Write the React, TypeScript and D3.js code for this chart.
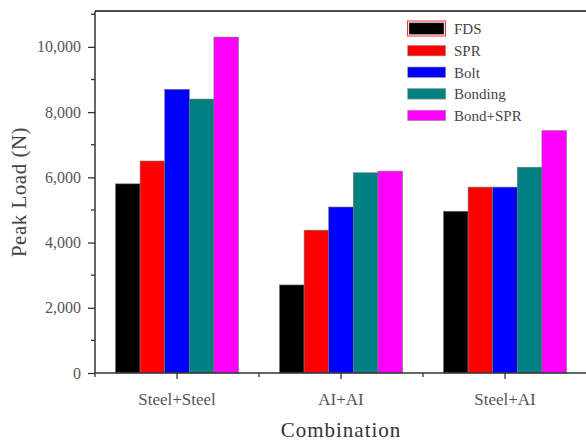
import * as d3 from "d3";
import { useEffect, useRef } from "react";

const categories = ["Steel+Steel", "AI+AI", "Steel+AI"];
const seriesNames = ["FDS", "SPR", "Bolt", "Bonding", "Bond+SPR"];
const seriesColors = ["#000000", "#ff0000", "#0000ff", "#008080", "#ff00ff"];
const fds = [5800, 2700, 4960];
const spr = [6500, 4380, 5700];
const bolt = [8700, 5090, 5700];
const bonding = [8400, 6140, 6310];
const bondSpr = [10300, 6190, 7430];
const majorTicks = [0, 2000, 4000, 6000, 8000, 10000];
const minorTicks = [1000, 3000, 5000, 7000, 9000, 11000];

const seriesValues = [fds, spr, bolt, bonding, bondSpr];

export default function App() {
  const width = 586;
  const height = 442;
  const marginLeft = 95;
  const marginTop = 11;
  const marginBottom = 69;
  const plotRight = 587;

  const xAxisRef = useRef<SVGGElement>(null);
  const yAxisRef = useRef<SVGGElement>(null);

  // group bands, bars take 75% of each band
  const x0 = d3.scaleBand(categories, [marginLeft, plotRight]).padding(0);
  const x1 = d3
    .scaleBand(seriesNames, [0, x0.bandwidth()])
    .paddingOuter(0.833)
    .paddingInner(0);
  const y = d3.scaleLinear([0, 11100], [height - marginBottom, marginTop]);

  const font = "'Liberation Serif', 'DejaVu Serif', serif";

  useEffect(() => {
    const ya = d3.select(yAxisRef.current);
    ya.selectAll("*").remove();
    ya.call(d3.axisLeft(y).tickValues(majorTicks).tickSize(7).tickSizeOuter(0).tickFormat(d3.format(",")))
      .call((g) => g.select(".domain").remove());
    ya.selectAll("text")
      .attr("x", -14)
      .attr("font-size", 16)
      .attr("font-family", font)
      .attr("fill", "#555");
    ya.selectAll("line").attr("stroke", "#333").attr("stroke-width", 1.3);
    ya.append("g")
      .selectAll("line")
      .data(minorTicks)
      .join("line")
      .attr("x1", -4)
      .attr("x2", 0)
      .attr("y1", (d) => y(d))
      .attr("y2", (d) => y(d))
      .attr("stroke", "#333")
      .attr("stroke-width", 1.3);

    const xa = d3.select(xAxisRef.current);
    xa.selectAll("*").remove();
    xa.call(d3.axisBottom(x0).tickSize(6).tickSizeOuter(0))
      .call((g) => g.select(".domain").remove());
    xa.selectAll("text")
      .attr("y", 20)
      .attr("font-size", 17)
      .attr("font-family", font)
      .attr("fill", "#555");
    xa.selectAll("line").attr("stroke", "#333").attr("stroke-width", 1.3);
    xa.append("g")
      .selectAll("line")
      .data(categories)
      .join("line")
      .attr("x1", (d) => x0(d)!)
      .attr("x2", (d) => x0(d)!)
      .attr("y1", 0)
      .attr("y2", 4)
      .attr("stroke", "#333")
      .attr("stroke-width", 1.3);
  }, []);

  const y0 = y(0);

  return (
    <svg
      width={width}
      height={height}
      style={{ position: "absolute", left: 0, top: 0, background: "#fff" }}
    >
      {categories.map((c, ci) => (
        <g key={c} transform={`translate(${x0(c)},0)`}>
          {seriesNames.map((s, si) => (
            <rect
              key={s}
              x={x1(s)}
              y={y(seriesValues[si][ci])}
              width={x1.bandwidth()}
              height={y0 - y(seriesValues[si][ci])}
              fill={seriesColors[si]}
              stroke="#777"
              strokeWidth={0.6}
            />
          ))}
        </g>
      ))}

      {/* frame lines */}
      <line x1={marginLeft} x2={plotRight} y1={marginTop} y2={marginTop} stroke="#111" strokeWidth={1.5} />
      <line x1={marginLeft} x2={marginLeft} y1={marginTop} y2={y0} stroke="#333" strokeWidth={1.5} />
      <line x1={marginLeft} x2={plotRight} y1={y0} y2={y0} stroke="#333" strokeWidth={1.5} />

      <g ref={yAxisRef} transform={`translate(${marginLeft},0)`}></g>
      <g ref={xAxisRef} transform={`translate(0,${y0})`}></g>

      {/* legend */}
      <rect x={407.5} y={21} width={38} height={15} fill="none" stroke="#ff3030" strokeWidth={1} />
      {seriesNames.map((s, i) => (
        <g key={s} transform={`translate(0,${34.3 + i * 21.6})`}>
          <rect
            x={409}
            y={i === 0 ? -11.5 : -10.5}
            width={i === 0 ? 35 : 38}
            height={i === 0 ? 11.5 : 10.5}
            fill={seriesColors[i]}
            stroke="#999"
            strokeWidth={0.6}
            transform={i === 0 ? "" : "translate(-1.3,0)"}
          />
          <text x={454} y={0} fontSize={15} fontFamily={font} fill="#444">
            {s}
          </text>
        </g>
      ))}

      {/* axis titles */}
      <text
        x={(marginLeft + plotRight) / 2}
        y={437}
        textAnchor="middle"
        fontSize={21}
        letterSpacing={1}
        fontFamily={font}
        fill="#333"
      >
        Combination
      </text>
      <text
        transform={`translate(26,${(marginTop + y0) / 2}) rotate(-90)`}
        textAnchor="middle"
        fontSize={21}
        letterSpacing={0.5}
        fontFamily={font}
        fill="#444"
      >
        Peak Load (N)
      </text>
    </svg>
  );
}
